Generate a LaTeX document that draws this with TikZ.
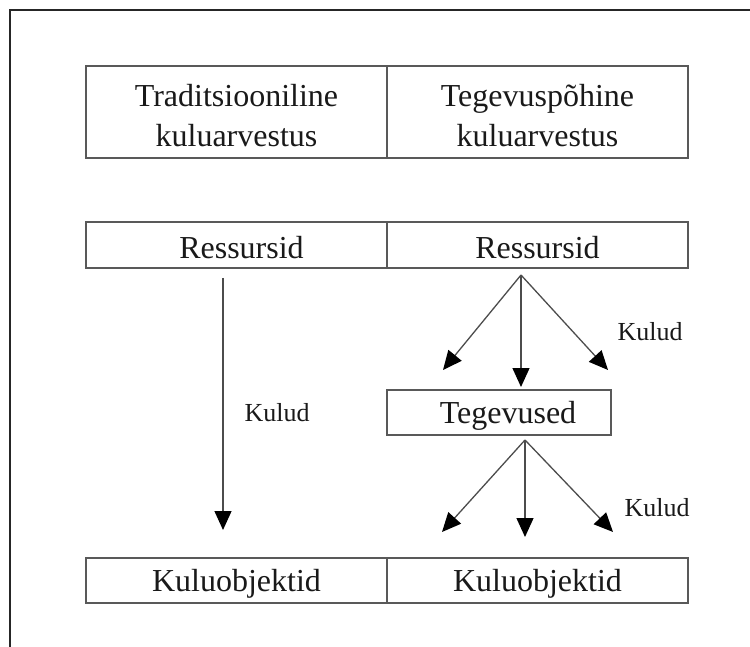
\documentclass[tikz,border=0pt]{standalone}
\usepackage{fontspec}
\setmainfont{Liberation Serif}
\usetikzlibrary{arrows.meta}
% lower a box visually while keeping its measured height and depth
\newcommand{\lowered}[2]{\raisebox{-#1}[\height][\depth]{#2}}
\newcommand{\twolines}[2]{\lowered{7pt}{\setlength{\tabcolsep}{0pt}\begin{tabular}{c}#1\\#2\end{tabular}}}
\begin{document}
\begin{tikzpicture}[x=1pt,y=-1pt,
  cell/.style={draw=black!65,line width=1.6pt,inner sep=0pt,anchor=center,
    align=center,font=\fontsize{32}{40}\selectfont,text=black!90},
  flow/.style={draw=black!70,line width=1.3pt,
    -{Triangle[length=19pt,width=17pt,fill=black,color=black]}},
  costlabel/.style={font=\fontsize{26}{30}\selectfont,text=black!90}]
\useasboundingbox (0,0) rectangle (750,647);
% frame
\draw[line width=2pt,black!85] (9.5,647) -- (9.5,10) -- (750,10);
% header row
\node[cell,minimum width=301pt,minimum height=92pt] (trad) at (236.5,112) {\twolines{Traditsiooniline}{kuluarvestus}};
\node[cell,minimum width=301pt,minimum height=92pt] (abc) at (537.5,112) {\twolines{Tegevuspõhine}{kuluarvestus}};
% resources
\node[cell,minimum width=301pt,minimum height=46pt] (resL) at (236.5,245) {\lowered{3pt}{\hspace*{10pt}Ressursid}};
\node[cell,minimum width=301pt,minimum height=46pt] (resR) at (537.5,245) {\lowered{3pt}{Ressursid}};
% activities
\node[cell,minimum width=224pt,minimum height=45pt] (act) at (499,412.5) {\lowered{3pt}{\hspace*{18pt}Tegevused}};
% cost objects
\node[cell,minimum width=301pt,minimum height=45pt] (objL) at (236.5,580.5) {\lowered{3pt}{Kuluobjektid}};
\node[cell,minimum width=301pt,minimum height=45pt] (objR) at (537.5,580.5) {\lowered{3pt}{Kuluobjektid}};
% arrow endpoints
\coordinate (l0) at (223,278);
\coordinate (l1) at (223,530);
\coordinate (u0) at (521,275);
\coordinate (uA) at (443,370);
\coordinate (uB) at (521,387);
\coordinate (uC) at (608,370);
\coordinate (d0) at (525,440);
\coordinate (dA) at (442,532);
\coordinate (dB) at (525,537);
\coordinate (dC) at (613,532);
% arrows
\draw[flow] (l0) -- (l1);
\draw[flow] (u0) -- (uA);
\draw[flow] (u0) -- (uB);
\draw[flow] (u0) -- (uC);
\draw[flow] (d0) -- (dA);
\draw[flow] (d0) -- (dB);
\draw[flow] (d0) -- (dC);
% labels
\node[costlabel] (k1) at (277,413) {Kulud};
\node[costlabel] (k2) at (650,332) {Kulud};
\node[costlabel] (k3) at (657,508) {Kulud};
\end{tikzpicture}
\end{document}
